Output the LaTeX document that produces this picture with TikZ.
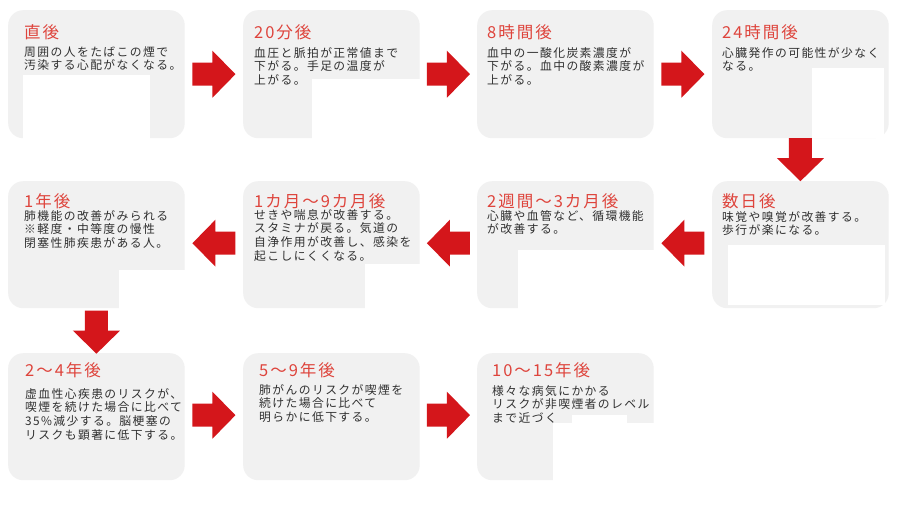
\documentclass[tikz,border=0pt]{standalone}
\usepackage{fontspec}
\setmainfont{Noto Sans CJK JP}
\newfontfamily\jpbody[LetterSpace=12]{Noto Sans CJK JP}
\newfontfamily\jptitle[LetterSpace=12]{Noto Sans CJK JP}
\usetikzlibrary{calc}
\definecolor{boxgray}{RGB}{241,241,241}
\definecolor{arrowred}{RGB}{212,22,27}
\definecolor{titlered}{RGB}{222,68,60}
\definecolor{bodygray}{RGB}{48,48,48}
\tikzset{
  card/.style={fill=boxgray, rounded corners=15pt, minimum width=176.5pt, minimum height=127pt, anchor=north west, inner sep=0pt, draw=none},
  ttl/.style={anchor=base west, inner sep=0pt, text=titlered, font=\jptitle\fontsize{16.5}{19}\selectfont},
  bodytext/.style={anchor=base west, inner sep=0pt, text=bodygray, text width=185pt, align=left, font=\jpbody\fontsize{11.8}{13.7}\selectfont},
  mask/.style={fill=white},
  blockarrow/.pic={\fill[arrowred] (-21.5,-11.5) -- (-1.5,-11.5) -- (-1.5,-23.5) -- (21.5,0) -- (-1.5,23.5) -- (-1.5,11.5) -- (-21.5,11.5) -- cycle;}
}
\begin{document}
\begin{tikzpicture}[x=1pt,y=1pt]
\useasboundingbox[fill=white] (0,0) rectangle (900,-512);
% cards
\node[card, minimum height=128pt] (b1) at (8,-10) {};
\node[card, minimum height=128pt] (b2) at (243,-10) {};
\node[card, minimum height=128pt] (b3) at (477,-10) {};
\node[card, minimum height=128pt] (b4) at (712,-10) {};
\node[card] (b5) at (712,-181) {};
\node[card] (b6) at (477,-181) {};
\node[card] (b7) at (243,-181) {};
\node[card] (b8) at (8,-181) {};
\node[card] (b9) at (8,-353) {};
\node[card] (b10) at (243,-353) {};
\node[card] (b11) at (477,-353) {};
% masked areas
\fill[mask] (23,-75) rectangle (150,-140);
\fill[mask] (312,-79) rectangle (420,-140);
\fill[mask] (812,-68) rectangle (884,-137.5);
\fill[mask] (119,-270) rectangle (186,-310);
\fill[mask] (365,-264) rectangle (420,-309);
\fill[mask] (518,-250) rectangle (655,-309);
\fill[mask] (728,-245) rectangle (885,-305);
\fill[mask] (572,-415) rectangle (627,-424);
\fill[mask] (553,-423) rectangle (660,-482);
% texts row 1
\node[ttl] (t1) at ($(b1.north west)+(16,-28.5)$) {直後};
\node[bodytext] (x1) at ($(b1.north west)+(16,-46)$) {周囲の人をたばこの煙で\\汚染する心配がなくなる。};
\node[ttl] (t2) at ($(b2.north west)+(11,-28.5)$) {20分後};
\node[bodytext] (x2) at ($(b2.north west)+(11,-47)$) {血圧と脈拍が正常値まで\\下がる。手足の温度が\\上がる。};
\node[ttl] (t3) at ($(b3.north west)+(10,-28.5)$) {8時間後};
\node[bodytext] (x3) at ($(b3.north west)+(10,-47)$) {血中の一酸化炭素濃度が\\下がる。血中の酸素濃度が\\上がる。};
\node[ttl] (t4) at ($(b4.north west)+(10,-28.5)$) {24時間後};
\node[bodytext] (x4) at ($(b4.north west)+(10,-47)$) {心臓発作の可能性が少なく\\なる。};
% texts row 2
\node[ttl] (t5) at ($(b5.north west)+(10,-26.5)$) {数日後};
\node[bodytext] (x5) at ($(b5.north west)+(10,-40)$) {味覚や嗅覚が改善する。\\歩行が楽になる。};
\node[ttl] (t6) at ($(b6.north west)+(10,-26.5)$) {2週間〜3カ月後};
\node[bodytext] (x6) at ($(b6.north west)+(10,-39)$) {心臓や血管など、循環機能\\が改善する。};
\node[ttl] (t7) at ($(b7.north west)+(11,-26.5)$) {1カ月〜9カ月後};
\node[bodytext] (x7) at ($(b7.north west)+(11,-38)$) {せきや喘息が改善する。\\スタミナが戻る。気道の\\自浄作用が改善し、感染を\\起こしにくくなる。};
\node[ttl] (t8) at ($(b8.north west)+(16,-26.5)$) {1年後};
\node[bodytext] (x8) at ($(b8.north west)+(16,-39)$) {肺機能の改善がみられる\\※軽度・中等度の慢性\\閉塞性肺疾患がある人。};
% texts row 3
\node[ttl] (t9) at ($(b9.north west)+(17,-23.5)$) {2〜4年後};
\node[bodytext] (x9) at ($(b9.north west)+(17,-45)$) {虚血性心疾患のリスクが、\\喫煙を続けた場合に比べて\\35\%減少する。脳梗塞の\\リスクも顕著に低下する。};
\node[ttl] (t10) at ($(b10.north west)+(16,-23.5)$) {5〜9年後};
\node[bodytext] (x10) at ($(b10.north west)+(16,-41)$) {肺がんのリスクが喫煙を\\続けた場合に比べて\\明らかに低下する。};
\node[ttl] (t11) at ($(b11.north west)+(15,-23.5)$) {10〜15年後};
\node[bodytext] (x11) at ($(b11.north west)+(15,-42)$) {様々な病気にかかる\\リスクが非喫煙者のレベル\\まで近づく};
% arrows
\pic at ($(b1.east)!0.5!(b2.west)$) {blockarrow};
\pic at ($(b2.east)!0.5!(b3.west)$) {blockarrow};
\pic at ($(b3.east)!0.5!(b4.west)$) {blockarrow};
\pic[rotate=-90] at ($(b4.south)!0.5!(b5.north)$) {blockarrow};
\pic[rotate=180] at ($(b5.west)!0.5!(b6.east)+(0,1.5)$) {blockarrow};
\pic[rotate=180] at ($(b6.west)!0.5!(b7.east)+(0,1.5)$) {blockarrow};
\pic[rotate=180] at ($(b7.west)!0.5!(b8.east)+(0,1.5)$) {blockarrow};
\pic[rotate=-90] at ($(b8.south)!0.5!(b9.north)+(0,-1.5)$) {blockarrow};
\pic at ($(b9.east)!0.5!(b10.west)+(0,1.5)$) {blockarrow};
\pic at ($(b10.east)!0.5!(b11.west)+(0,1.5)$) {blockarrow};
\end{tikzpicture}
\end{document}
